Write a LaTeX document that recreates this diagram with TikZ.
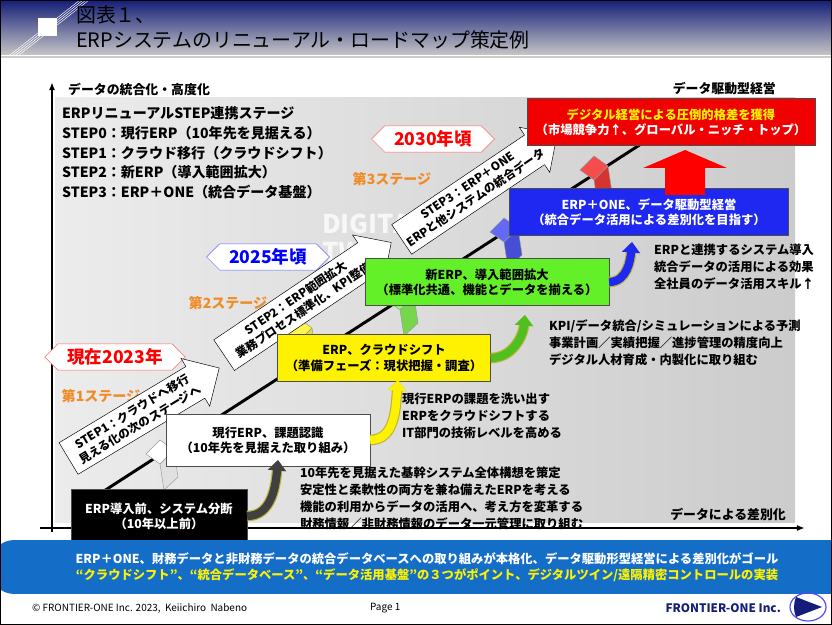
\documentclass[tikz,border=0pt]{standalone}
\usepackage{fontspec}
\setmainfont{Noto Sans CJK JP}
\usetikzlibrary{shapes.arrows,shapes.symbols,arrows.meta}
\definecolor{navy}{RGB}{20,30,120}
\definecolor{barblue}{RGB}{20,110,200}
\definecolor{stageor}{RGB}{240,140,40}
\definecolor{goalred}{RGB}{240,0,0}
\definecolor{newgreen}{RGB}{100,240,40}
\definecolor{oneblue}{RGB}{30,40,240}

\tikzset{
  box/.style={draw=black!70, align=center, font=\bfseries\fontsize{10.5}{13}\selectfont, inner sep=3pt},
  yearlbl/.style={shape=signal, signal to=east and west, draw=red!60, fill=white, font=\bfseries\fontsize{15}{17}\selectfont, inner xsep=8pt, inner ysep=4pt},
  stagelbl/.style={text=stageor, font=\bfseries\fontsize{12}{14}\selectfont},
  steparrow/.style={shape=single arrow, draw=black, fill=white, align=center, font=\bfseries\fontsize{10}{12.5}\selectfont, single arrow head extend=8pt, inner xsep=2pt, inner ysep=4.5pt},
  note/.style={anchor=north west, align=left, font=\bfseries\fontsize{10.5}{14.5}\selectfont},
  curv/.style={line width=7pt, -{Triangle[length=9pt,width=15pt]}},
}

\begin{document}
\begin{tikzpicture}[x=0.03cm, y=-0.03cm]
\useasboundingbox (0,0) rectangle (832,625);
\fill[white] (0,0) rectangle (832,625);
% title band
\shade[top color=navy, bottom color=gray!45] (0,0) rectangle (832,55);
\draw[gray!40, line width=1pt] (0,57) -- (832,57);
\foreach \d in {0,3,6,9} \draw[white] (10+\d,55) -- (80+\d,0);
\fill[white] (38,18) rectangle (57,36);
\node[anchor=west, font=\fontsize{17}{19}\selectfont] (title1) at (72,15) {図表１、};
\node[anchor=west, font=\fontsize{17}{19}\selectfont] (title2) at (72,40) {ERPシステムのリニューアル・ロードマップ策定例};

% background panel
\shade[left color=gray!15, right color=gray!40] (55,98) rectangle (795,522);
\node[text=white!80!gray!30, font=\bfseries\fontsize{22}{24}\selectfont, anchor=west, align=left] (twin) at (318,238) {DIGITAL\\TWIN};

% axes
\coordinate (origin) at (52,528);
\coordinate (ytop) at (52,82);
\coordinate (xend) at (805,528);
\draw[line width=1.5pt, -{Latex[length=7pt]}] (52,532) -- (ytop);
\draw[line width=1.5pt, -{Latex[length=7pt]}] (40,528) -- (xend);
\node[anchor=west, font=\bfseries\fontsize{11}{13}\selectfont] (ylbl) at (64,89) {データの統合化・高度化};
\node[anchor=east, font=\bfseries\fontsize{11}{13}\selectfont] (toplbl) at (780,89) {データ駆動型経営};
\node[anchor=east, font=\bfseries\fontsize{11}{13}\selectfont] (xlbl) at (790,514) {データによる差別化};

% diagonal road
\draw[line width=2.5pt] (90,500) -- (655,135);

% flags
\foreach \x/\y/\c in {168/462/white, 306/340/yellow, 408/308/newgreen, 512/240/oneblue, 602/178/goalred}{
  \fill[\c!70!white, draw=black!40] (\x-22,\y-8) -- (\x-8,\y-22) -- (\x+6,\y-12) -- (\x-8,\y+2) -- cycle;
  \fill[\c!85!black!80, draw=black!40] (\x-8,\y+2) -- (\x+6,\y-12) -- (\x+10,\y+15) -- (\x-4,\y+28) -- cycle;
}

% step list
\node[note, font=\bfseries\fontsize{12}{17}\selectfont] (steps) at (58,102) {ERPリニューアルSTEP連携ステージ\\STEP0：現行ERP（10年先を見据える）\\STEP1：クラウド移行（クラウドシフト）\\STEP2：新ERP（導入範囲拡大）\\STEP3：ERP＋ONE（統合データ基盤）};

% years and stages
\node[yearlbl, text=red] (y2023) at (115,357) {現在2023年};
\node[yearlbl, text=blue, draw=blue!60] (y2025) at (268,257) {2025年頃};
\node[yearlbl, text=red] (y2030) at (433,139) {2030年頃};
\node[stagelbl] (st1) at (101,396) {第1ステージ};
\node[stagelbl] (st2) at (228,303) {第2ステージ};
\node[stagelbl] (st3) at (392,179) {第3ステージ};

% step arrows
\node[steparrow, rotate=31, minimum height=150pt] (step1) at (136,418) {STEP1：クラウドへ移行\\見える化の次のステージへ};
\node[steparrow, rotate=34, minimum height=172pt] (step2) at (300,304) {STEP2：ERP範囲拡大\\業務プロセス標準化、KPI整備};
\node[steparrow, rotate=34, minimum height=160pt] (step3) at (472,192) {STEP3：ERP＋ONE\\ERPと他システムの統合データ};

% stage boxes
\node[box, fill=black, text=white, minimum width=150, minimum height=46] (pre) at (159,516) {ERP導入前、システム分断\\（10年以上前）};
\node[box, fill=white, minimum width=174, minimum height=44] (now) at (268,440) {現行ERP、課題認識\\（10年先を見据えた取り組み）};
\node[box, fill=yellow, minimum width=182, minimum height=40] (cloud) at (384,358) {ERP、クラウドシフト\\（準備フェーズ：現状把握・調査）};
\node[box, fill=newgreen, minimum width=208, minimum height=40] (newerp) at (487,282) {新ERP、導入範囲拡大\\（標準化共通、機能とデータを揃える）};
\node[box, fill=oneblue, text=white, minimum width=238, minimum height=40] (one) at (649,212) {ERP＋ONE、データ駆動型経営\\（統合データ活用による差別化を目指す）};
\node[box, fill=goalred, text=white, minimum width=246, minimum height=40] (goal) at (671,122) {\textcolor{yellow}{デジタル経営による圧倒的格差を獲得}\\（市場競争力↑、グローバル・ニッチ・トップ）};

% big red arrow
\fill[red] (643,168) -- (685,150) -- (727,168) -- (705,168) -- (705,195) -- (665,195) -- (665,168) -- cycle;

% curved arrows
\coordinate (e1) at (278,460);
\coordinate (e2) at (398,380);
\coordinate (e3) at (525,315);
\coordinate (e4) at (632,242);
\foreach \s/\e/\c in {pre/e1/black!75, now/e2/yellow, cloud/e3/newgreen!80!black, newerp/e4/oneblue}{
  \draw[curv, yellow!70!black, line width=9pt] (\s.east) to[out=0, in=-95] (\e);
  \draw[curv, \c] (\s.east) to[out=0, in=-95] (\e);
}

% notes
\node[note] (n1) at (296,463) {10年先を見据えた基幹システム全体構想を策定\\安定性と柔軟性の両方を兼ね備えたERPを考える\\機能の利用からデータの活用へ、考え方を変革する\\財務情報／非財務情報のデータ一元管理に取り組む};
\node[note] (n2) at (398,389) {現行ERPの課題を洗い出す\\ERPをクラウドシフトする\\IT部門の技術レベルを高める};
\node[note] (n3) at (545,316) {KPI/データ統合/シミュレーションによる予測\\事業計画／実績把握／進捗管理の精度向上\\デジタル人材育成・内製化に取り組む};
\node[note] (n4) at (650,240) {ERPと連携するシステム導入\\統合データの活用による効果\\全社員のデータ活用スキル↑};

% bottom bar
\node[fill=barblue, rounded corners=20, minimum width=745, minimum height=46, align=center, text=white, font=\bfseries\fontsize{10.5}{14}\selectfont] (bar) at (427,567) {ERP＋ONE、財務データと非財務データの統合データベースへの取り組みが本格化、データ駆動形型経営による差別化がゴール\\\textcolor{yellow}{“クラウドシフト”、“統合データベース”、“データ活用基盤”の３つがポイント、デジタルツイン/遠隔精密コントロールの実装}};

% footer
\node[anchor=west, font=\fontsize{8.5}{10}\selectfont] (copy) at (28,608) {© FRONTIER-ONE Inc. 2023,\ \ Keiichiro\ \ Nabeno};
\node[anchor=west, font=\fontsize{8.5}{10}\selectfont] (page) at (366,608) {Page 1};
\node[anchor=east, text=navy, font=\bfseries\itshape\fontsize{10}{12}\selectfont] (corp) at (785,608) {FRONTIER-ONE Inc.};
\draw[blue!70, line width=1pt] (808,607) ellipse [x radius=18, y radius=14];
\fill[navy] (796,597) -- (822,607) -- (796,617) to[bend left=20] cycle;

\draw[line width=2pt] (0,0) rectangle (832,625);
\end{tikzpicture}
\end{document}
